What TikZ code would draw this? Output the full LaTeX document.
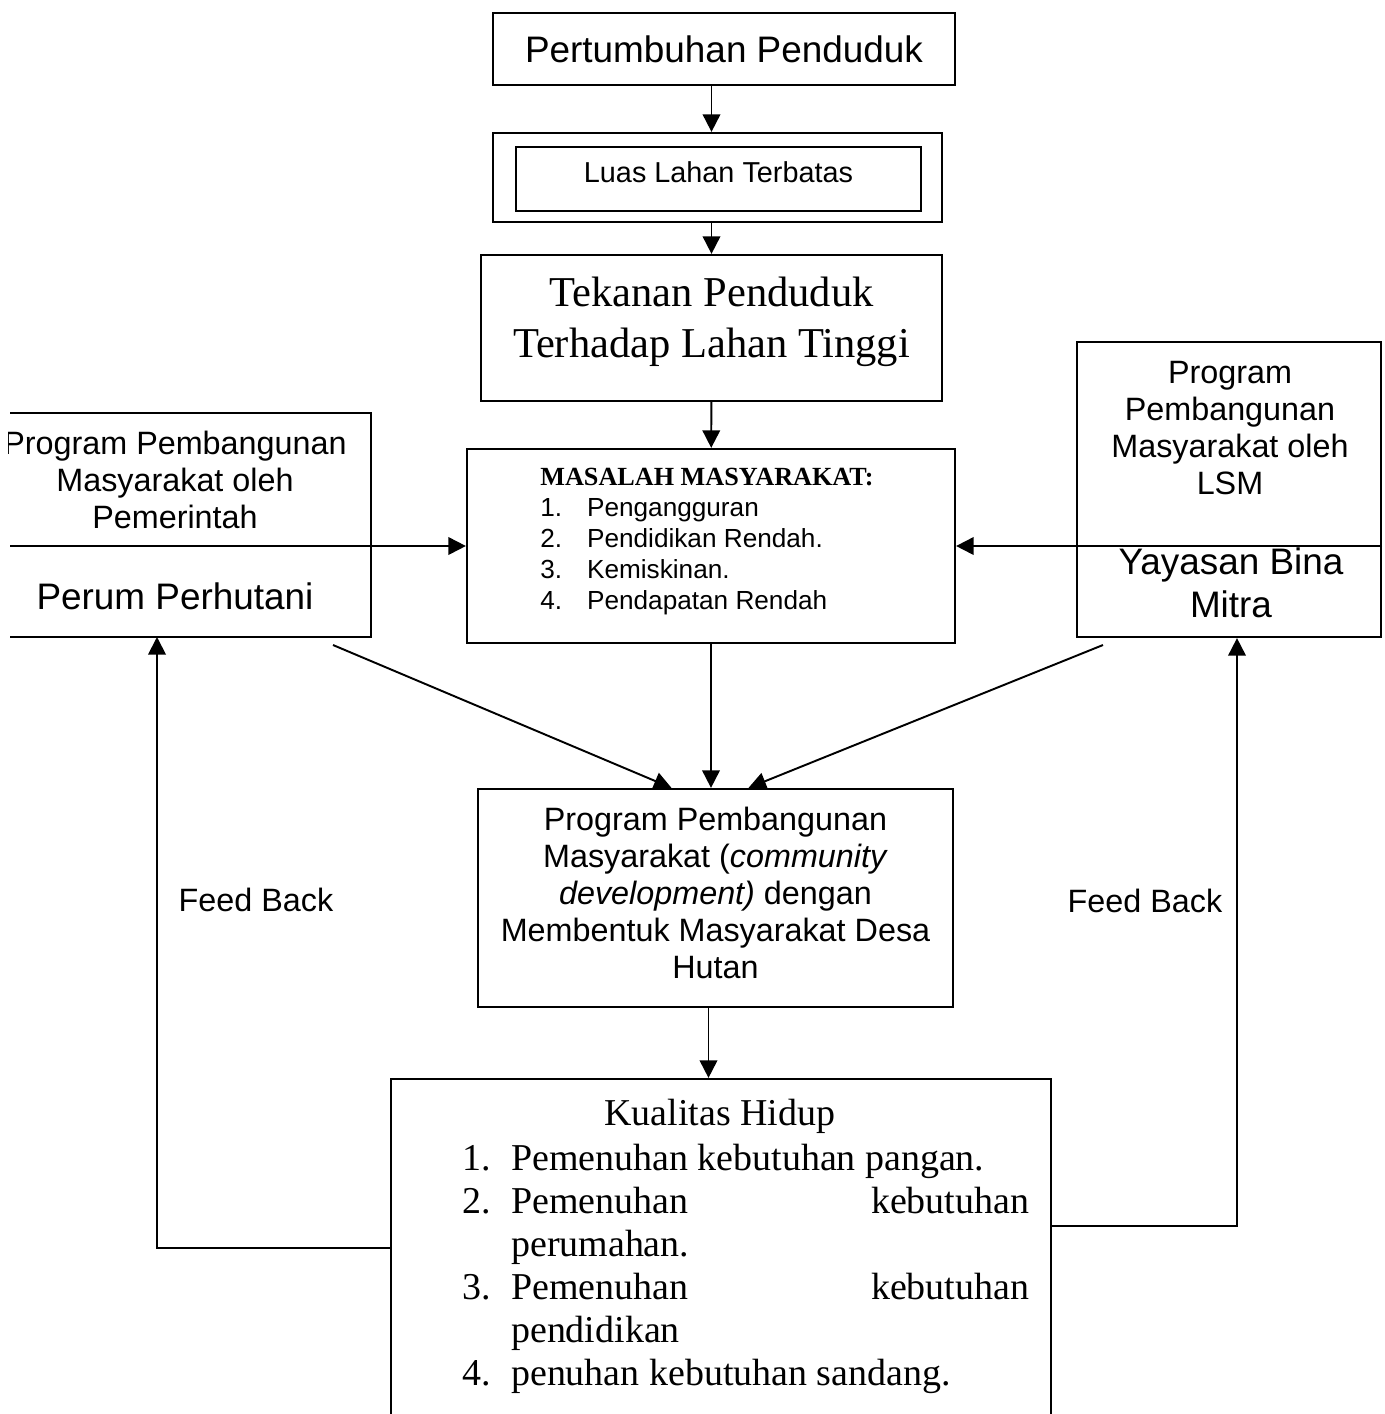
\documentclass[tikz,border=0pt]{standalone}
\usepackage{fontspec}
\setmainfont{Liberation Serif}
\setsansfont{Liberation Sans}
\usetikzlibrary{arrows.meta, calc}

\begin{document}
\begin{tikzpicture}[
    x=0.02cm, y=-0.02cm,
    >={Triangle[length=10pt,width=10pt]},
    box/.style={draw,line width=1.3pt,inner sep=0pt},
    link/.style={->,line width=1.1pt},
    big sans/.style={font=\sffamily\fontsize{21}{24.4}\selectfont,align=center},
    mid sans/.style={font=\sffamily\fontsize{18.4}{21}\selectfont,align=center},
    list text/.style={inner sep=0pt,align=flush left}
    ]
    \useasboundingbox (0,0) rectangle (1384,1414);
    % nodes
    % top chain
    \node [box,big sans,minimum width=9.24cm,minimum height=1.44cm] (pert) at (724,49) {Pertumbuhan Penduduk};
    \node [box,minimum width=8.98cm,minimum height=1.78cm] (luas) at (717.5,177.5) {};
    \node [box,font=\sffamily\fontsize{16.4}{19}\selectfont,text height=12pt,text depth=8pt,minimum width=8.1cm,minimum height=1.28cm] (luas inner) at (718.5,179) {Luas Lahan Terbatas};
    \node [box,minimum width=9.22cm,minimum height=2.92cm] (tek) at (711.5,328) {};
    \node [font=\fontsize{24.2}{29}\selectfont,align=center] (tek text) at (711.5,322) {Tekanan Penduduk\\Terhadap Lahan Tinggi};
    % masalah
    \node [box,minimum width=9.76cm,minimum height=3.88cm] (masalah) at (711,546) {};
    \node [list text,anchor=north west,font=\sffamily\fontsize{14.9}{17.6}\selectfont] (masalah text) at (540,468) {%
        {\rmfamily\bfseries MASALAH MASYARAKAT:}\\
        \makebox[26.6pt][l]{1.}Pengangguran\\
        \makebox[26.6pt][l]{2.}Pendidikan Rendah.\\
        \makebox[26.6pt][l]{3.}Kemiskinan.\\
        \makebox[26.6pt][l]{4.}Pendapatan Rendah};
    % pemerintah
    \coordinate (pem nw) at (10,413);
    \coordinate (pem se) at (371,637);
    \draw [box] (pem nw) -| (pem se) -- (pem nw |- pem se);
    \begin{scope}
        \clip (8,400) rectangle (380,540);
        \node [mid sans] (pem text) at (175,480) {Program Pembangunan\\Masyarakat oleh\\Pemerintah};
    \end{scope}
    \node [big sans] (perhutani) at (175,596) {Perum Perhutani};
    % lsm
    \node [box,minimum width=6.08cm,minimum height=5.9cm] (lsm) at (1229,489.5) {};
    \node [mid sans] (lsm text) at (1230,428) {Program\\Pembangunan\\Masyarakat oleh\\LSM};
    \node [big sans] (bina) at (1231,583) {Yayasan Bina\\Mitra};
    % community development
    \node [box,minimum width=9.5cm,minimum height=4.36cm] (comdev) at (715.5,898) {};
    \node [mid sans] (comdev text) at (715.5,893) {Program Pembangunan\\Masyarakat (\textit{community}\\\textit{development)} dengan\\Membentuk Masyarakat Desa\\Hutan};
    % kualitas hidup
    \node [box,minimum width=13.2cm,minimum height=7.22cm] (kualitas) at (721,1259.5) {};
    \node [anchor=base,inner sep=0pt,font=\fontsize{21.6}{24.4}\selectfont] (hidup) at (720,1125) {Kualitas Hidup};
    \node [list text,anchor=north west,text width=11.34cm,font=\fontsize{21.6}{24.4}\selectfont] (hidup list) at (462,1144) {%
        \makebox[27.8pt][l]{1.}Pemenuhan kebutuhan pangan.\\
        \makebox[27.8pt][l]{2.}Pemenuhan\hfill kebutuhan\\
        \hspace*{27.8pt}perumahan.\\
        \makebox[27.8pt][l]{3.}Pemenuhan\hfill kebutuhan\\
        \hspace*{27.8pt}pendidikan\\
        \makebox[27.8pt][l]{4.}penuhan kebutuhan sandang.};
    % edges
    \draw [link] (tek.north |- pert.south) -- (tek.north |- luas.north);
    \draw [link] (tek.north |- luas.south) -- (tek.north);
    \draw [link] (tek) -- (masalah);
    \draw [link] (masalah.south) -- (masalah.south |- comdev.north);
    \draw [link] ($(comdev.south)+(-7,0)$) -- ($(comdev.south |- kualitas.north)+(-7,0)$);
    % side programs
    \draw [link] (pem nw |- masalah.west) -- (masalah.west);
    \draw [link] (lsm.east |- masalah.east) -- (masalah.east);
    \coordinate (pem out) at (333,645);
    \coordinate (lsm out) at (1103,645);
    \draw [link] (pem out) -- ($(comdev.north)+(-44,0)$);
    \draw [link] (lsm out) -- ($(comdev.north)+(33,0)$);
    % feed back
    \coordinate (fb left) at (157,1248);
    \coordinate (fb right) at (1237,1226);
    \draw [link] (kualitas.west |- fb left) -- (fb left) -- (fb left |- pem se);
    \draw [link] (kualitas.east |- fb right) -- (fb right) -- (fb right |- lsm.south);
    \node [mid sans] (fb left label) at (256,900) {Feed Back};
    \node [mid sans] (fb right label) at (1145,901) {Feed Back};
\end{tikzpicture}
\end{document}
